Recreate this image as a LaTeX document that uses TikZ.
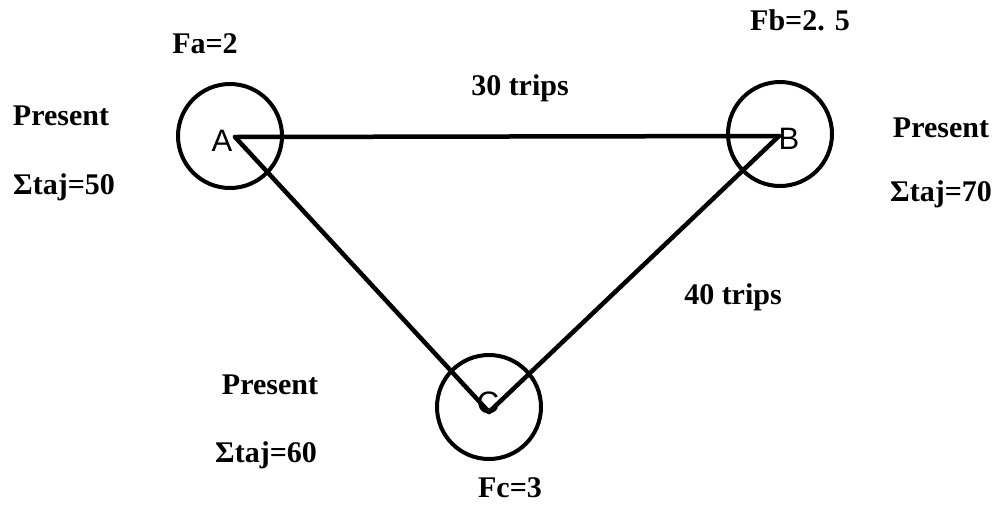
\documentclass[tikz,border=0pt]{standalone}
\usepackage{fontspec}
\setmainfont{Liberation Serif}
\newfontfamily\letterfont{Liberation Sans}
\begin{document}
\begin{tikzpicture}[x=1pt,y=-1pt,
  station/.style={draw,circle,line width=4pt,minimum size=104pt,inner sep=0pt},
  route/.style={line width=4.5pt,line cap=round},
  lab/.style={font=\fontsize{30}{34}\selectfont\bfseries,inner sep=0pt},
  letter/.style={font=\fontsize{31}{34}\selectfont\letterfont,inner sep=0pt}]
\useasboundingbox (0,0) rectangle (996,504);
\node[station] (A) at (230,136) {};
\node[station] (B) at (780,134) {};
\node[station] (C) at (489,407) {};
\coordinate (pA) at (235,137);
\coordinate (pB) at (779,136);
\coordinate (pC) at (489,412);
\draw[route] (pA) -- (pB);
\draw[route] (pA) -- (pC);
\draw[route] (pB) -- (pC);
\node[letter] (lA) at (222,141) {A};
\node[letter] (lB) at (789,139) {B};
\node[letter] (lC) at (488,403) {C};
\node[lab] (fa) at (205,44) {Fa=2};
\node[lab] (fb) at (800,20) {Fb=2. 5};
\node[lab] (fc) at (510,488) {Fc=3};
\node[lab] (t30) at (520,88) {30 trips};
\node[lab] (t40) at (733,297) {40 trips};
\node[lab] (pl) at (61,116) {Present};
\node[lab] (sl) at (64,187) {Σtaj=50};
\node[lab] (pr) at (941,128) {Present};
\node[lab] (sr) at (941,194) {Σtaj=70};
\node[lab] (pc) at (270,385) {Present};
\node[lab] (sc) at (266,455) {Σtaj=60};
\end{tikzpicture}
\end{document}
